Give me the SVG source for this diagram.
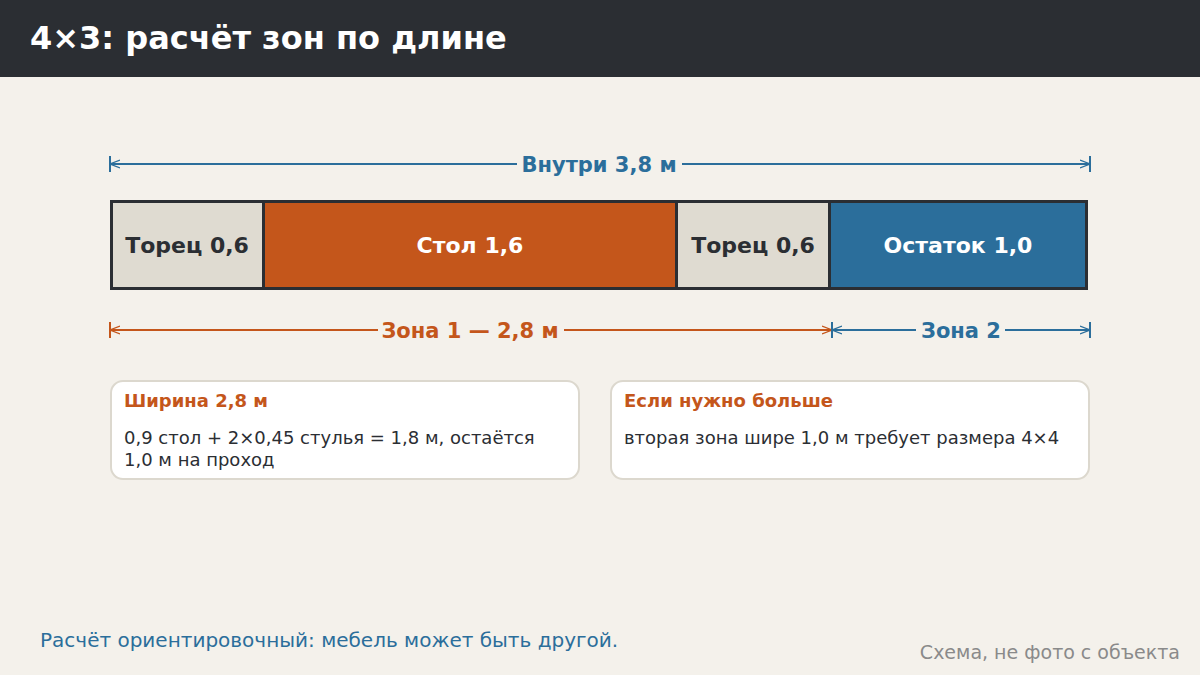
<svg xmlns="http://www.w3.org/2000/svg" width="1200" height="675" viewBox="0 0 1200 675">
<defs>
<style>
text{font-family:"DejaVu Sans","Noto Sans",sans-serif}
.b{font-weight:bold}
.seg{stroke:#2b2e33;stroke-width:3}
.card{fill:#ffffff;stroke:#dcd8ce;stroke-width:2}
.ct{font-size:18px;font-weight:bold;fill:#c4561b}
.cb{font-size:18px;fill:#2b2e33}
.blue{stroke:#2b6e9b;stroke-width:2;fill:none}
.orange{stroke:#c4561b;stroke-width:2;fill:none}
</style>
<marker id="ab" viewBox="0 0 10 10" refX="10" refY="5" markerWidth="10" markerHeight="10" markerUnits="userSpaceOnUse" orient="auto-start-reverse">
<path d="M0,1 L10,5 L0,9" fill="none" stroke="#2b6e9b" stroke-width="1.2"/>
</marker>
<marker id="ao" viewBox="0 0 10 10" refX="10" refY="5" markerWidth="10" markerHeight="10" markerUnits="userSpaceOnUse" orient="auto-start-reverse">
<path d="M0,1 L10,5 L0,9" fill="none" stroke="#c4561b" stroke-width="1.2"/>
</marker>
</defs>
<rect width="1200" height="675" fill="#f4f1eb"/>
<g id="header">
<rect width="1200" height="77" fill="#2b2e33"/>
<text x="30" y="49" class="b" font-size="32" fill="#ffffff">4×3: расчёт зон по длине</text>
</g>
<g id="connectors">
<line x1="110" y1="164" x2="1090" y2="164" class="blue" marker-start="url(#ab)" marker-end="url(#ab)"/>
<line x1="110" y1="156" x2="110" y2="172" class="blue"/>
<line x1="1090" y1="156" x2="1090" y2="172" class="blue"/>
<rect x="517" y="150" width="165" height="28" fill="#f4f1eb"/>
<text x="599" y="172" text-anchor="middle" class="b" font-size="21" fill="#2b6e9b">Внутри 3,8 м</text>

<line x1="110" y1="330" x2="832" y2="330" class="orange" marker-start="url(#ao)" marker-end="url(#ao)"/>
<line x1="110" y1="322" x2="110" y2="338" class="orange"/>
<rect x="378" y="316" width="186" height="28" fill="#f4f1eb"/>
<text x="470" y="338" text-anchor="middle" class="b" font-size="21" fill="#c4561b">Зона 1 — 2,8 м</text>

<line x1="832" y1="330" x2="1090" y2="330" class="blue" marker-start="url(#ab)" marker-end="url(#ab)"/>
<line x1="832" y1="322" x2="832" y2="338" class="blue"/>
<line x1="1090" y1="322" x2="1090" y2="338" class="blue"/>
<rect x="916" y="316" width="89" height="28" fill="#f4f1eb"/>
<text x="961" y="338" text-anchor="middle" class="b" font-size="21" fill="#2b6e9b">Зона 2</text>
</g>
<g id="seg-torec1">
<rect x="111.5" y="201.5" width="152" height="87" fill="#dfdbd1" class="seg"/>
<text x="187" y="253" text-anchor="middle" class="b" font-size="22" fill="#2b2e33">Торец 0,6</text>
</g>
<g id="seg-stol">
<rect x="263.5" y="201.5" width="413" height="87" fill="#c4561b" class="seg"/>
<text x="470" y="253" text-anchor="middle" class="b" font-size="22" fill="#ffffff">Стол 1,6</text>
</g>
<g id="seg-torec2">
<rect x="676.5" y="201.5" width="153" height="87" fill="#dfdbd1" class="seg"/>
<text x="753" y="253" text-anchor="middle" class="b" font-size="22" fill="#2b2e33">Торец 0,6</text>
</g>
<g id="seg-ostatok">
<rect x="829.5" y="201.5" width="257" height="87" fill="#2b6e9b" class="seg"/>
<text x="958" y="253" text-anchor="middle" class="b" font-size="22" fill="#ffffff">Остаток 1,0</text>
</g>
<g id="card-width">
<rect x="111" y="381" width="468" height="98" rx="12" class="card"/>
<text x="124" y="407" class="ct">Ширина 2,8 м</text>
<text x="124" y="444" class="cb">0,9 стол + 2×0,45 стулья = 1,8 м, остаётся</text>
<text x="124" y="466" class="cb">1,0 м на проход</text>
</g>
<g id="card-more">
<rect x="611" y="381" width="478" height="98" rx="12" class="card"/>
<text x="624" y="407" class="ct">Если нужно больше</text>
<text x="624" y="444" class="cb">вторая зона шире 1,0 м требует размера 4×4</text>
</g>
<g id="footer">
<text x="40" y="647" font-size="20" fill="#2b6e9b">Расчёт ориентировочный: мебель может быть другой.</text>
<text x="1180" y="659" text-anchor="end" font-size="19" fill="#8a8a8a">Схема, не фото с объекта</text>
</g>
</svg>
